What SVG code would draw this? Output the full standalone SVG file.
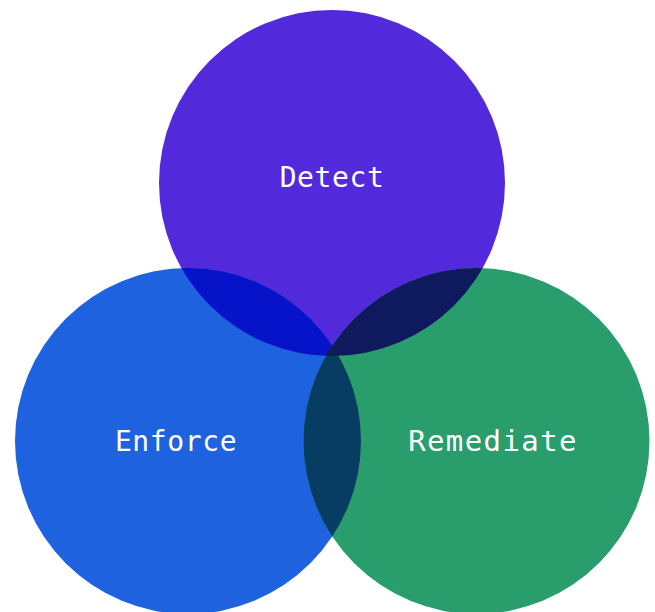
<svg xmlns="http://www.w3.org/2000/svg" width="655" height="612" viewBox="0 0 655 612">
  <defs>
    <style>
      .label { font-family: "DejaVu Sans Mono", "Liberation Mono", monospace; font-size: 28px; fill: #ffffff; text-anchor: middle; letter-spacing: 0.6px; }
      .wide { font-size: 29px; letter-spacing: 1.4px; }
    </style>
    <clipPath id="clipDetect"><circle cx="332" cy="183" r="173"/></clipPath>
    <clipPath id="clipEnforce"><circle cx="188" cy="441" r="173"/></clipPath>
  </defs>
  <rect width="655" height="612" fill="#ffffff"/>

  <g id="detect">
    <circle cx="332" cy="183" r="173" fill="#5229DB"/>
  </g>
  <g id="enforce">
    <circle cx="188" cy="441" r="173" fill="#1F62E0"/>
  </g>
  <g id="remediate">
    <circle cx="476.5" cy="441" r="173" fill="#299D6C"/>
  </g>

  <!-- overlap regions -->
  <g id="overlaps">
    <g clip-path="url(#clipDetect)">
      <circle cx="188" cy="441" r="173" fill="#0713C9"/>
      <circle cx="476.5" cy="441" r="173" fill="#0E1A5D"/>
    </g>
    <g clip-path="url(#clipEnforce)">
      <circle cx="476.5" cy="441" r="173" fill="#073C63"/>
      <g clip-path="url(#clipDetect)">
        <circle cx="476.5" cy="441" r="173" fill="#0B2245"/>
      </g>
    </g>
  </g>

  <g id="labels">
    <text class="label" x="332" y="187">Detect</text>
    <text class="label" x="176" y="451">Enforce</text>
    <text class="label wide" x="493" y="451">Remediate</text>
  </g>
</svg>
